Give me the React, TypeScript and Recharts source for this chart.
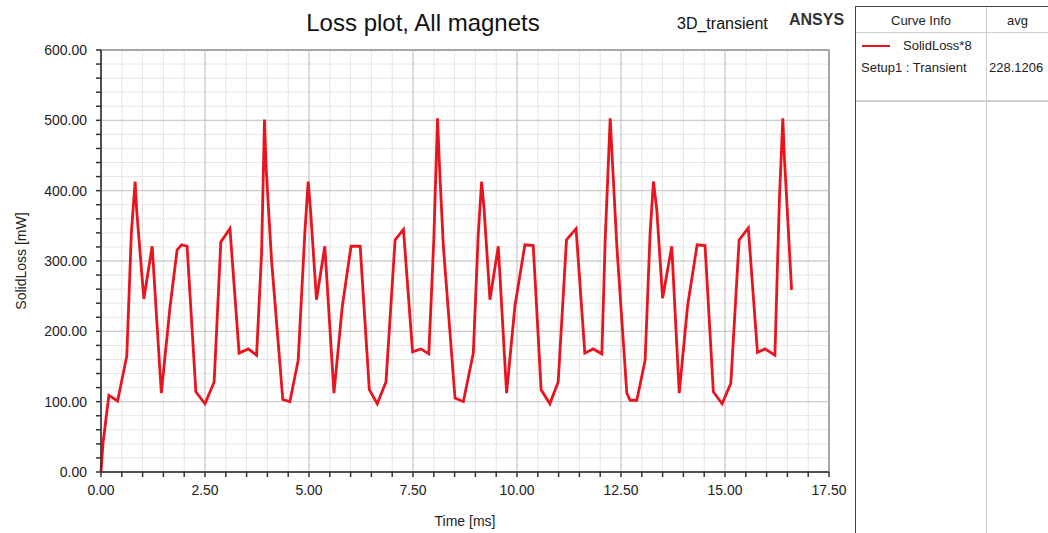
import React from 'react';
import { LineChart, Line, XAxis, YAxis, CartesianGrid, ReferenceLine, ReferenceArea } from 'recharts';

// Time [ms]
const timeMs = [
  0.0, 0.05, 0.19, 0.4, 0.62, 0.73, 0.82, 0.86, 1.03, 1.23, 1.45, 1.66, 1.83, 1.94, 2.07, 2.28, 2.5, 2.72, 2.88, 3.1,
  3.32, 3.54, 3.74, 3.86, 3.93, 3.97, 4.1, 4.37, 4.54,
  4.74, 4.9, 4.98, 5.04, 5.18, 5.38, 5.6, 5.8, 6.01, 6.23, 6.45, 6.64, 6.85, 7.07, 7.27, 7.49, 7.69, 7.88, 8.0, 8.09,
  8.14, 8.23, 8.51, 8.71,
  8.95, 9.07, 9.15, 9.21, 9.35, 9.55, 9.75, 9.95, 10.19, 10.39, 10.58, 10.79, 10.99, 11.19, 11.42, 11.63, 11.83, 12.04,
  12.12, 12.24, 12.3, 12.4, 12.64, 12.72, 12.88,
  13.08, 13.2, 13.28, 13.36, 13.5, 13.72, 13.9, 14.1, 14.33, 14.52, 14.72, 14.93, 15.14, 15.34, 15.56, 15.78, 15.96,
  16.2, 16.26, 16.31, 16.39, 16.43, 16.48, 16.6,
];
// SolidLoss*8 [mW]
const solidLoss = [
  0, 42, 109, 101, 165, 340, 413, 370, 246, 321, 112, 235, 316, 323, 321, 114, 97, 128, 327, 346,
  169, 175, 166, 311, 501, 432, 301, 103, 100,
  159, 340, 413, 370, 245, 321, 112, 235, 321, 321, 117, 97, 128, 330, 345, 171, 175, 168, 330, 503,
  430, 321, 105, 100,
  169, 340, 413, 373, 245, 321, 112, 236, 323, 322, 117, 97, 128, 330, 346, 169, 175, 168,
  330, 503, 434, 321, 112, 102, 102,
  159, 340, 413, 373, 247, 321, 112, 236, 323, 322, 114, 97, 126, 330, 347, 170, 175,
  166, 291, 391, 503, 444, 391, 259,
];

const xTicks = [0, 0.5, 1, 1.5, 2, 2.5, 3, 3.5, 4, 4.5, 5, 5.5, 6, 6.5, 7, 7.5, 8, 8.5, 9, 9.5, 10, 10.5, 11, 11.5, 12, 12.5, 13, 13.5, 14, 14.5, 15, 15.5, 16, 16.5, 17, 17.5];
const xMajorTicks = [0, 2.5, 5, 7.5, 10, 12.5, 15, 17.5];
const yTicks = [0, 20, 40, 60, 80, 100, 120, 140, 160, 180, 200, 220, 240, 260, 280, 300, 320, 340, 360, 380, 400, 420, 440, 460, 480, 500, 520, 540, 560, 580, 600];
const yMajorTicks = [0, 100, 200, 300, 400, 500, 600];

const data = timeMs.map((t, i) => ({ t, loss: solidLoss[i] }));

const FONT = '"Liberation Sans", Arial, sans-serif';

export default function App() {
  return (
    <div style={{ position: 'absolute', left: 0, top: 0, width: 1048, height: 533, background: '#fff', fontFamily: FONT, overflow: 'hidden' }}>
      <LineChart width={850} height={533} data={data} margin={{ top: 50, right: 21, left: 0, bottom: 0 }}>
        <CartesianGrid stroke="#e6e6e6" strokeWidth={1} />
        {xMajorTicks.map((v) => (
          <ReferenceLine key={'x' + v} x={v} stroke="#c4c4c4" strokeWidth={1} />
        ))}
        {yMajorTicks.map((v) => (
          <ReferenceLine key={'y' + v} y={v} stroke="#c4c4c4" strokeWidth={1} />
        ))}
        <ReferenceArea x1={0} x2={17.5} y1={0} y2={600} fill="none" stroke="#666" strokeWidth={1.5} />
        <XAxis
          dataKey="t"
          type="number"
          domain={[0, 17.5]}
          ticks={xTicks}
          interval={0}
          height={61}
          tickSize={5}
          tickMargin={8}
          stroke="#333"
          strokeWidth={1.5}
          tick={{ fill: '#222', fontSize: 14, fontFamily: FONT }}
          tickFormatter={(v: number) => (xMajorTicks.includes(v) ? v.toFixed(2) : '')}
          label={{ value: 'Time [ms]', position: 'center', dy: 19, fill: '#222', fontSize: 14, fontFamily: FONT }}
        />
        <YAxis
          type="number"
          domain={[0, 600]}
          ticks={yTicks}
          interval={0}
          width={101}
          tickSize={5}
          tickMargin={9}
          stroke="#333"
          strokeWidth={1.5}
          tick={{ fill: '#222', fontSize: 14, fontFamily: FONT }}
          tickFormatter={(v: number) => (yMajorTicks.includes(v) ? v.toFixed(2) : '')}
          label={{ value: 'SolidLoss [mW]', angle: -90, position: 'center', dx: -29, fill: '#222', fontSize: 14, fontFamily: FONT }}
        />
        <Line
          dataKey="loss"
          type="linear"
          stroke="#e8141e"
          strokeWidth={2.8}
          dot={false}
          isAnimationActive={false}
        />
      </LineChart>

      <div style={{ position: 'absolute', left: 296, top: 9, fontSize: 24, color: '#111', whiteSpace: 'nowrap', width: 254, textAlign: 'center' }}>
        Loss plot, All magnets
      </div>
      <div style={{ position: 'absolute', left: 677, top: 15, fontSize: 16, color: '#111', whiteSpace: 'nowrap' }}>3D_transient</div>
      <div style={{ position: 'absolute', left: 789, top: 11, fontSize: 16, fontWeight: 'bold', color: '#333', whiteSpace: 'nowrap' }}>ANSYS</div>

      {/* Legend table */}
      <div style={{ position: 'absolute', left: 855, top: 6, width: 193, height: 527, borderLeft: '1.5px solid #444', borderTop: '1.5px solid #444', boxSizing: 'border-box' }} />
      <div style={{ position: 'absolute', left: 986, top: 7, width: 1, height: 526, background: '#cfcfcf' }} />
      <div style={{ position: 'absolute', left: 856, top: 32, width: 192, height: 1, background: '#cfcfcf' }} />
      <div style={{ position: 'absolute', left: 856, top: 100, width: 192, height: 1.5, background: '#cfcfcf' }} />
      <div style={{ position: 'absolute', left: 856, top: 13, width: 130, textAlign: 'center', fontSize: 13, color: '#222' }}>Curve Info</div>
      <div style={{ position: 'absolute', left: 987, top: 13, width: 61, textAlign: 'center', fontSize: 13, color: '#222' }}>avg</div>
      <div style={{ position: 'absolute', left: 862, top: 45, width: 28, height: 2, background: '#e8141e' }} />
      <div style={{ position: 'absolute', left: 903, top: 38, fontSize: 13, color: '#222', whiteSpace: 'nowrap' }}>SolidLoss*8</div>
      <div style={{ position: 'absolute', left: 861, top: 60, fontSize: 13, color: '#222', whiteSpace: 'nowrap' }}>Setup1 : Transient</div>
      <div style={{ position: 'absolute', left: 989, top: 60, fontSize: 13, color: '#222', whiteSpace: 'nowrap' }}>228.1206</div>
    </div>
  );
}
